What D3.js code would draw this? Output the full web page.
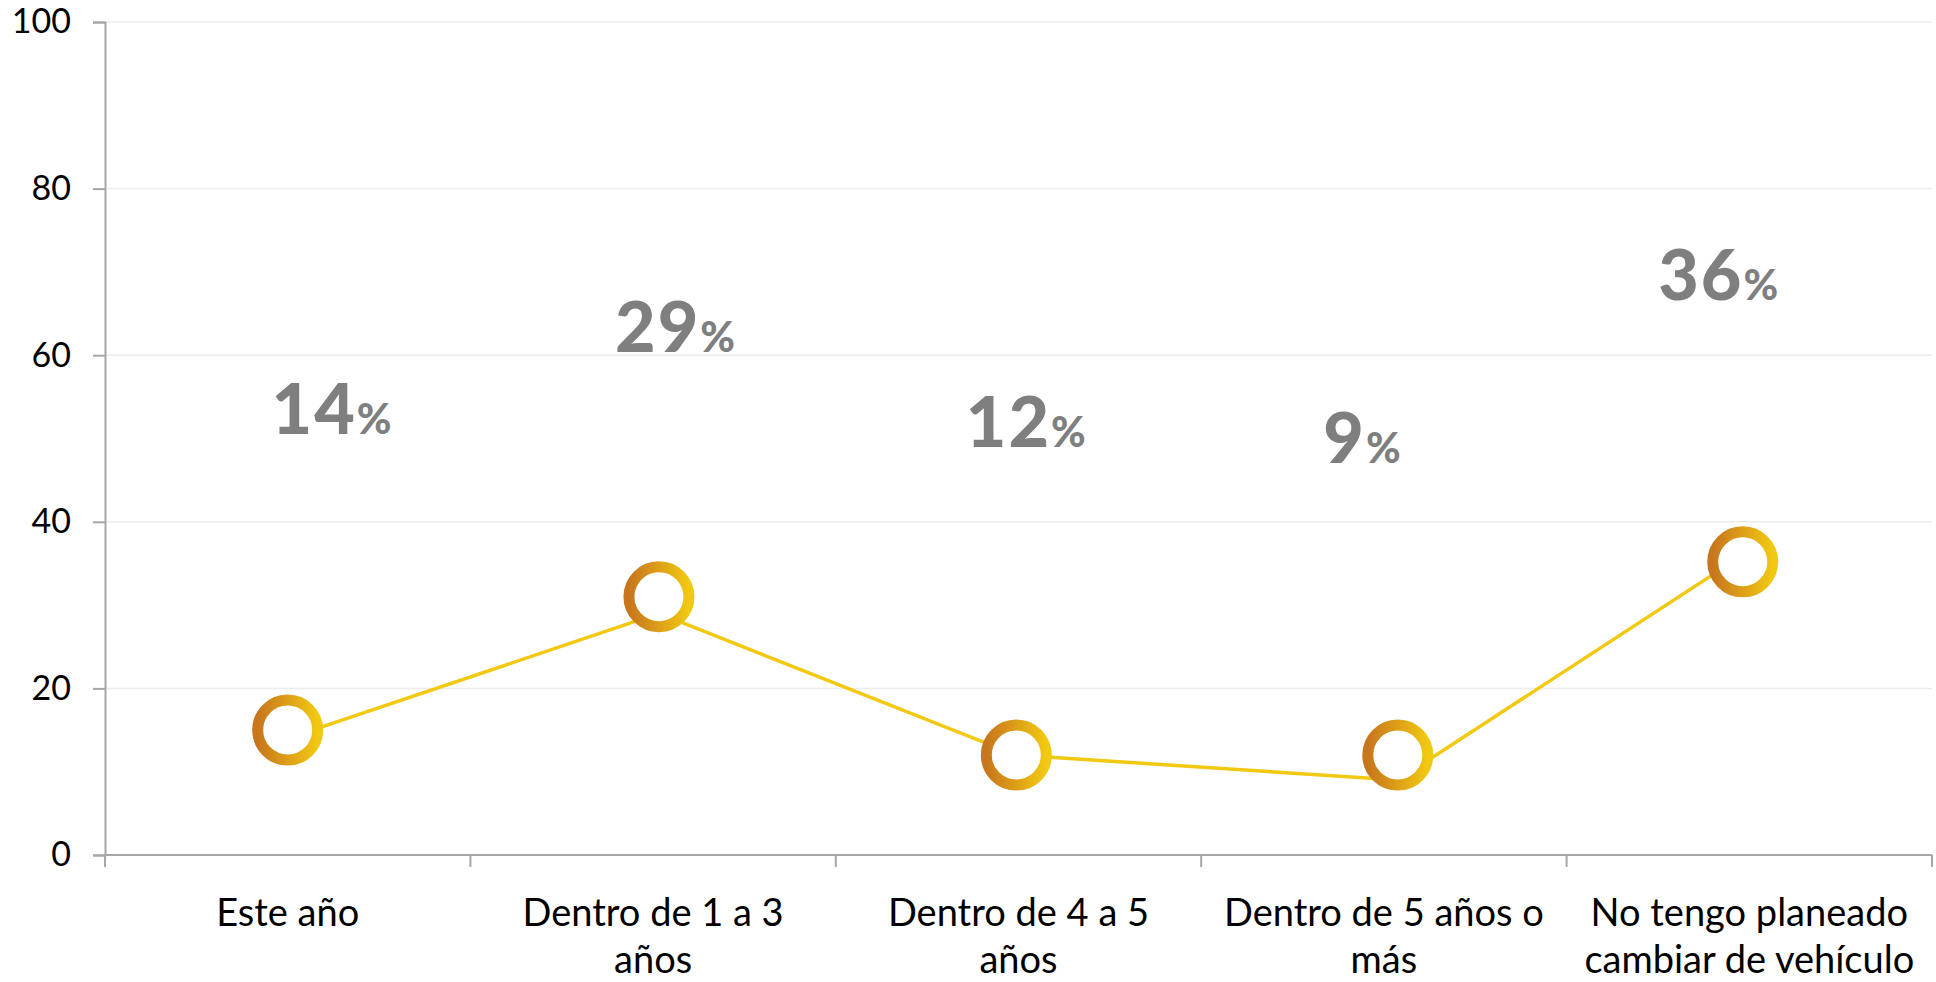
<!DOCTYPE html>
<html lang="es">

<head>
    <meta charset="UTF-8">
    <title>Cambio de vehículo</title>
    <script src="https://d3js.org/d3.v7.min.js"></script>
</head>
<style>
    html, body {
        margin: 0;
        padding: 0;
        background: #fff;
    }
    .tick text {
        font-family: Lato, sans-serif;
    }
</style>

<body>
    <div id="chart"></div>
    <script>
        // data
        const categories = ['Este año', 'Dentro de 1 a 3\naños', 'Dentro de 4 a 5\naños', 'Dentro de 5 años o\nmás', 'No tengo planeado\ncambiar de vehículo'];
        const lineValues = [14, 29, 12, 9, 36];
        // the ring markers sit a bit off the line in the original
        const markerValues = [15, 31, 12, 12, 35.2];
        const pointShift = [0, 0.016, -0.006, 0.038, -0.018]; // fraction of a band
        const pctLabels = ['14', '29', '12', '9', '36'];
        const labelLevel = [50.5, 60.4, 49, 47, 66.6]; // where the big % labels sit, in value units
        const labelShift = [0.12, 0.06, 0.02, -0.06, -0.085]; // fraction of a band
        const yTicks = [0, 20, 40, 60, 80, 100];

        const W = 1936, H = 982;
        const margin = { top: 22, right: 4, bottom: 127, left: 105 };
        const innerW = W - margin.left - margin.right;
        const innerH = H - margin.top - margin.bottom;

        const svg = d3.select('#chart')
            .append('svg')
            .attr('width', W)
            .attr('height', H);

        const defs = svg.append('defs');
        const grad = defs.append('linearGradient')
            .attr('id', 'ringGrad')
            .attr('x1', '0%').attr('y1', '0%')
            .attr('x2', '100%').attr('y2', '0%');
        grad.append('stop').attr('offset', '0%').attr('stop-color', '#c8761d');
        grad.append('stop').attr('offset', '100%').attr('stop-color', '#f2c912');

        const g = svg.append('g')
            .attr('transform', `translate(${margin.left},${margin.top})`);

        const x = d3.scaleBand()
            .domain(categories)
            .range([0, innerW])
            .paddingInner(0)
            .paddingOuter(0);

        const y = d3.scaleLinear()
            .domain([0, 100])
            .range([innerH, 0]);

        const px = i => x(categories[i]) + x.bandwidth() * (0.5 + pointShift[i]);

        // gridlines
        g.append('g')
            .selectAll('line')
            .data(yTicks.filter(d => d > 0))
            .enter()
            .append('line')
            .attr('x1', 0)
            .attr('x2', innerW)
            .attr('y1', d => y(d))
            .attr('y2', d => y(d))
            .attr('stroke', '#ececec')
            .attr('stroke-width', 1.5);

        // y axis
        const yAxis = g.append('g')
            .call(d3.axisLeft(y).tickValues(yTicks).tickSize(12).tickPadding(22));
        yAxis.select('.domain').attr('stroke', '#a6a6a6').attr('stroke-width', 2);
        yAxis.selectAll('.tick line').attr('stroke', '#a6a6a6').attr('stroke-width', 2);
        yAxis.selectAll('.tick text')
            .attr('font-size', 34)
            .attr('fill', '#000');

        // x axis with ticks on band edges
        const xAxis = g.append('g')
            .attr('transform', `translate(0,${innerH})`);
        xAxis.append('line')
            .attr('x1', 0).attr('x2', innerW)
            .attr('y1', 0).attr('y2', 0)
            .attr('stroke', '#a6a6a6')
            .attr('stroke-width', 2);
        const edges = categories.map(c => x(c)).concat([innerW]);
        xAxis.selectAll('.edge')
            .data(edges)
            .enter()
            .append('line')
            .attr('class', 'edge')
            .attr('x1', d => d).attr('x2', d => d)
            .attr('y1', 0).attr('y2', 12)
            .attr('stroke', '#a6a6a6')
            .attr('stroke-width', 2);

        const catLabels = xAxis.selectAll('.cat')
            .data(categories)
            .enter()
            .append('text')
            .attr('class', 'cat')
            .attr('x', d => x(d) + x.bandwidth() / 2)
            .attr('y', 71)
            .attr('text-anchor', 'middle')
            .attr('font-family', 'Lato, sans-serif')
            .attr('font-size', 38)
            .attr('fill', '#000');
        catLabels.each(function(d) {
            const lines = d.split('\n');
            const t = d3.select(this);
            lines.forEach((ln, i) => {
                t.append('tspan')
                    .attr('x', x(d) + x.bandwidth() / 2)
                    .attr('dy', i === 0 ? 0 : 47)
                    .text(ln);
            });
        });

        // line
        const line = d3.line()
            .x((d, i) => px(i))
            .y(d => y(d));

        g.append('path')
            .datum(lineValues)
            .attr('d', line)
            .attr('fill', 'none')
            .attr('stroke', '#f2c811')
            .attr('stroke-width', 3.5);

        // ring markers
        g.selectAll('.ring')
            .data(markerValues)
            .enter()
            .append('circle')
            .attr('class', 'ring')
            .attr('cx', (d, i) => px(i))
            .attr('cy', d => y(d))
            .attr('r', 30)
            .attr('fill', '#fff')
            .attr('stroke', 'url(#ringGrad)')
            .attr('stroke-width', 11);

        // big percentage labels
        const pct = g.selectAll('.pct')
            .data(pctLabels)
            .enter()
            .append('text')
            .attr('class', 'pct')
            .attr('x', (d, i) => x(categories[i]) + x.bandwidth() * (0.5 + labelShift[i]))
            .attr('y', (d, i) => y(labelLevel[i]))
            .attr('text-anchor', 'middle')
            .attr('font-family', 'Lato, sans-serif')
            .attr('font-weight', 900)
            .attr('fill', '#7f7f7f');
        pct.append('tspan')
            .attr('font-size', 70)
            .attr('letter-spacing', 2)
            .text(d => d);
        pct.append('tspan')
            .attr('font-size', 42)
            .text('%');
    </script>
</body>

</html>
